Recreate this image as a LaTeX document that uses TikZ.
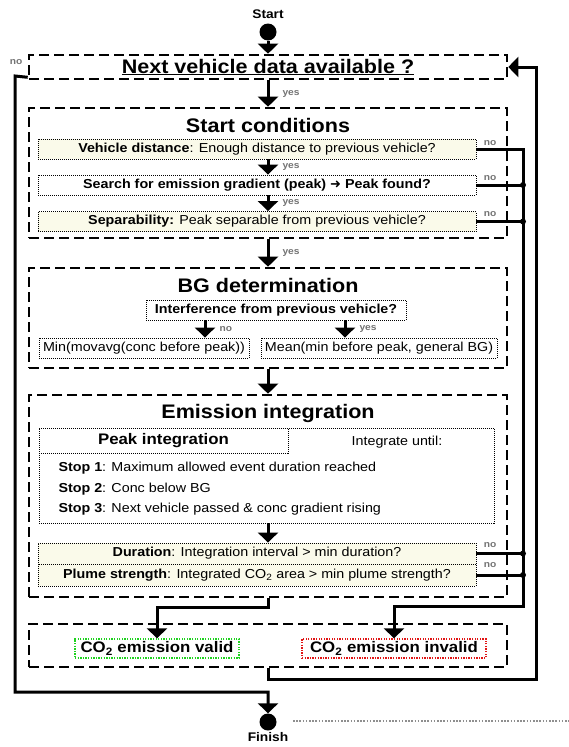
\documentclass[tikz,border=0pt]{standalone}
\usepackage{fontspec}
\setmainfont{Liberation Sans}[FakeStretch=1.1]
\newfontfamily\arrowfont{DejaVu Sans}
\usepackage{tikz}
\usetikzlibrary{arrows.meta}
\tikzset{>={Triangle[length=10pt,width=20pt]}}
\definecolor{condfill}{RGB}{250,250,234}
\definecolor{labelgray}{RGB}{115,115,115}
\definecolor{validgreen}{RGB}{30,210,30}
\definecolor{invalidred}{RGB}{225,20,20}
\tikzstyle{phase} = [draw, line width=2.6pt, dash pattern=on 10pt off 5pt,
    inner sep=0pt]
\tikzstyle{cond} = [draw, line width=0.9pt, dash pattern=on 1pt off 1pt,
    inner sep=0pt]
\tikzstyle{heading} = [font=\fontsize{19.6}{22}\selectfont\bfseries]
\tikzstyle{smalltext} = [font=\fontsize{13}{15}\selectfont]
\tikzstyle{resulttext} = [font=\fontsize{15.3}{17}\selectfont\bfseries]
\tikzstyle{answer} = [font=\fontsize{9.3}{11}\selectfont\bfseries,
    text=labelgray, inner sep=1pt]
\tikzstyle{flow} = [line width=3pt]
\tikzstyle{terminal} = [circle, fill=black, minimum size=17pt, inner sep=0pt]
\tikzstyle{joint} = [circle, fill=black, minimum size=6pt, inner sep=0pt]

\begin{document}
\begin{tikzpicture}[x=1pt,y=-1pt]
\useasboundingbox (0,0) rectangle (569,747);
    %start and finish
    \node[font=\fontsize{12.5}{14}\selectfont\bfseries] (starttext) at (268,14) {Start};
    \node[terminal] (start) at (268,32) {};
    \node[terminal] (finish) at (268,722) {};
    \node[font=\fontsize{12.5}{14}\selectfont\bfseries] (finishtext) at (268,737) {Finish};
    %next vehicle
    \node[phase, heading, minimum width=478, minimum height=24] (next) at (268,67)
        {\underline{Next vehicle data available ?}};
    %start conditions
    \node[phase, minimum width=478, minimum height=130] (startcond) at (268,173) {};
    \node[heading] (sctitle) at (268,125) {Start conditions};
    \node[cond, fill=condfill, smalltext, minimum width=438, minimum height=20] (dist) at (257,149)
        {\textbf{Vehicle distance}: Enough distance to previous vehicle?};
    \node[cond, smalltext, minimum width=438, minimum height=20] (peak) at (257,185)
        {\textbf{Search for emission gradient (peak) {\arrowfont ➜} Peak found?}};
    \node[cond, fill=condfill, smalltext, minimum width=438, minimum height=20] (separ) at (257,221.5)
        {\textbf{Separability:} Peak separable from previous vehicle?};
    %background
    \node[phase, minimum width=478, minimum height=100] (bg) at (268,318) {};
    \node[heading] (bgtitle) at (268,285) {BG determination};
    \node[cond, smalltext, minimum width=260, minimum height=20] (interf) at (276,310)
        {\textbf{Interference from previous vehicle?}};
    \node[cond, smalltext, minimum width=210, minimum height=20] (minbg) at (144,348)
        {Min(movavg(conc before peak))};
    \node[cond, smalltext, minimum width=236, minimum height=20] (meanbg) at (379,348)
        {Mean(min before peak, general BG)};
    %integration
    \node[phase, minimum width=478, minimum height=202] (emis) at (268,496) {};
    \node[heading] (emistitle) at (268,413) {Emission integration};
    \node[cond, minimum width=455, minimum height=95] (integ) at (266.5,475.5) {};
    \node[cond, font=\fontsize{15.3}{17}\selectfont\bfseries, minimum width=249, minimum height=25]
        (peakint) at (163.5,440.5) {Peak integration};
    \node[smalltext] (until) at (397,442) {Integrate until:};
    \node[smalltext, anchor=west] (stop1) at (55,468) {\textbf{Stop 1}: Maximum allowed event duration reached};
    \node[smalltext, anchor=west] (stop2) at (55,489) {\textbf{Stop 2}: Conc below BG};
    \node[smalltext, anchor=west] (stop3) at (55,509) {\textbf{Stop 3}: Next vehicle passed \& conc gradient rising};
    \node[cond, fill=condfill, smalltext, minimum width=438, minimum height=21] (duration) at (257,553.5)
        {\textbf{Duration}: Integration interval > min duration?};
    \node[cond, fill=condfill, smalltext, minimum width=438, minimum height=22] (plume) at (257,575)
        {\textbf{Plume strength}: Integrated CO\textsubscript{2} area > min plume strength?};
    %result
    \node[phase, minimum width=478, minimum height=43] (result) at (268,645.5) {};
    \node[cond, draw=validgreen, line width=1.3pt, dash pattern=on 1.3pt off 1.3pt, resulttext,
        minimum width=164, minimum height=19] (valid) at (157,648.5) {CO\textsubscript{2} emission valid};
    \node[cond, draw=invalidred, line width=1.3pt, dash pattern=on 1.3pt off 1.3pt, resulttext,
        minimum width=184, minimum height=19] (invalid) at (394,648.5) {CO\textsubscript{2} emission invalid};
    %main flow
    \draw[flow,->] (start.south) -- (next.north);
    \draw[flow,->] (next.south) -- node[answer, anchor=west, xshift=12pt] (yes0) {yes} (startcond.north);
    \draw[flow,->] (dist.south -| startcond.north) -- node[answer, anchor=west, xshift=12pt] (yes1) {yes}
        (peak.north -| startcond.north);
    \draw[flow,->] (peak.south -| startcond.north) -- node[answer, anchor=west, xshift=12pt] (yes2) {yes}
        (separ.north -| startcond.north);
    \draw[flow,->] (startcond.south) -- node[answer, anchor=west, xshift=12pt] (yes3) {yes} (bg.north);
    \draw[flow,->] ([xshift=-71pt]interf.south) -- node[answer, anchor=west, xshift=12pt] (nobg) {no}
        ([xshift=61pt]minbg.north);
    \draw[flow,->] ([xshift=69pt]interf.south) -- node[answer, anchor=west, xshift=12pt] (yesbg) {yes}
        ([xshift=-34pt]meanbg.north);
    \draw[flow,->] (bg.south) -- (emis.north);
    \draw[flow,->] (integ.south -| emis.south) -- (duration.north -| emis.south);
    \draw[flow,->] (emis.south) -- ++(0,9) -| (valid.north);
    %rejections
    \coordinate (rail) at (523,606);
    \draw[flow,->] (dist.east) -| (rail) -| (invalid.north);
    \draw[flow] (peak.east) -- (peak.east -| rail) node[joint] (j1) {};
    \draw[flow] (separ.east) -- (separ.east -| rail) node[joint] (j2) {};
    \draw[flow] (duration.east) -- (duration.east -| rail) node[joint] (j3) {};
    \draw[flow] (plume.east) -- (plume.east -| rail) node[joint] (j4) {};
    \node[answer] (no1) at (490,143) {no};
    \node[answer] (no2) at (490,178) {no};
    \node[answer] (no3) at (490,214) {no};
    \node[answer] (no4) at (490,545) {no};
    \node[answer] (no5) at (490,565) {no};
    %loops
    \coordinate (loopcorner) at (536,67);
    \draw[flow,->] (result.south) -- ++(0,11) -| (loopcorner) -- (next.east);
    \coordinate (leftcorner) at (15,76);
    \coordinate (leftbottom) at (15,692);
    \draw[flow,->] ([yshift=3pt]next.south west) -- (leftcorner) -- (leftbottom) -| (finish.north);
    \node[answer] (no0) at (16,62) {no};
    \draw[labelgray!80, line width=1.6pt, dash pattern=on 1.6pt off 1.6pt] (293,721) -- (569,721);
\end{tikzpicture}
\end{document}
